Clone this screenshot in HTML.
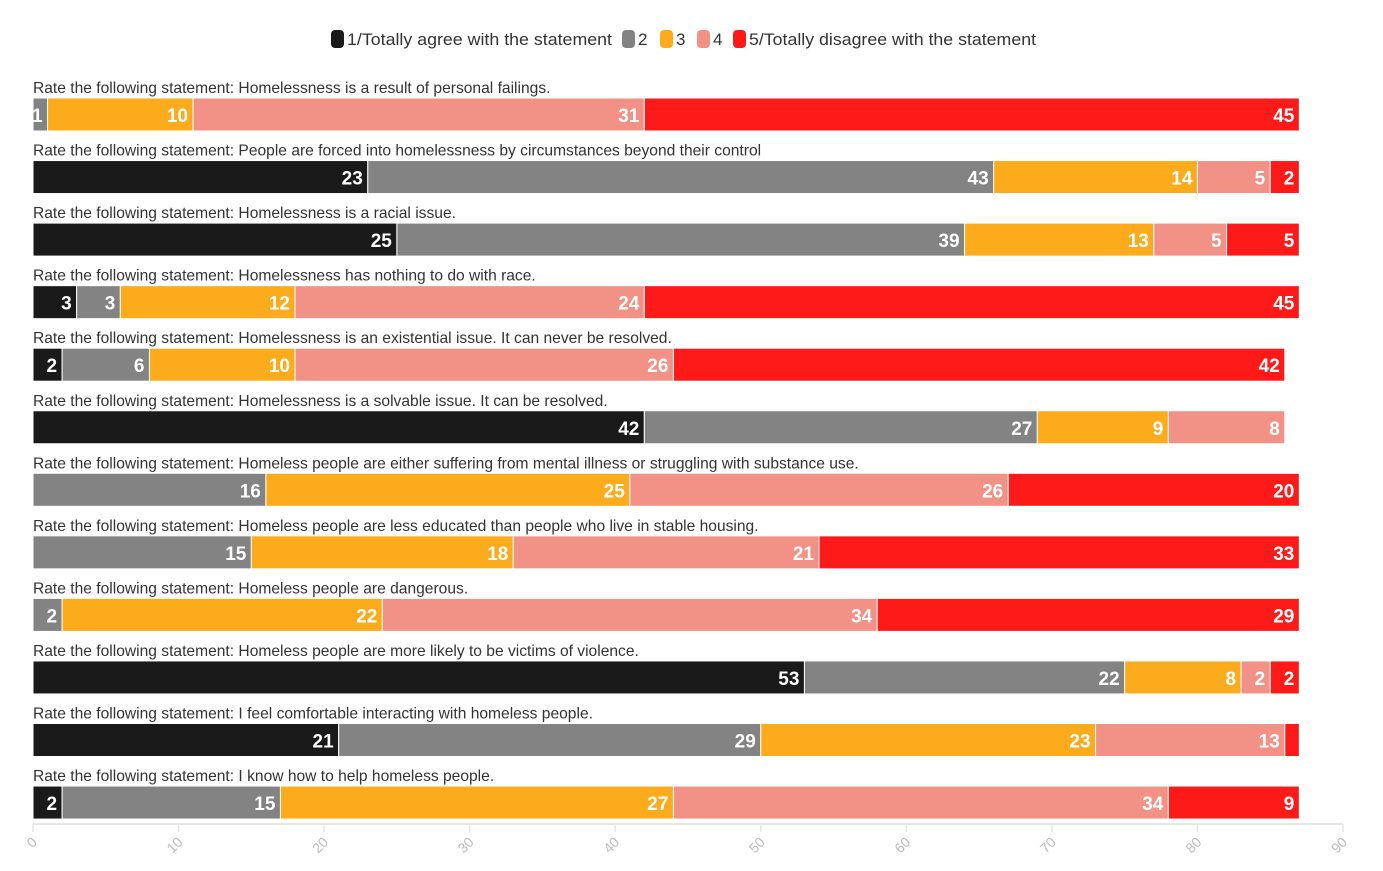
<!DOCTYPE html>
<html><head><meta charset="utf-8"><style>
body{margin:0;background:#fff;font-family:"Liberation Sans",sans-serif;}
svg{display:block}
</style></head><body>
<svg id="chart" width="1383" height="871"></svg>
<script>
const categories=["Rate the following statement: Homelessness is a result of personal failings.",
"Rate the following statement: People are forced into homelessness by circumstances beyond their control",
"Rate the following statement: Homelessness is a racial issue.",
"Rate the following statement: Homelessness has nothing to do with race.",
"Rate the following statement: Homelessness is an existential issue. It can never be resolved.",
"Rate the following statement: Homelessness is a solvable issue. It can be resolved.",
"Rate the following statement: Homeless people are either suffering from mental illness or struggling with substance use.",
"Rate the following statement: Homeless people are less educated than people who live in stable housing.",
"Rate the following statement: Homeless people are dangerous.",
"Rate the following statement: Homeless people are more likely to be victims of violence.",
"Rate the following statement: I feel comfortable interacting with homeless people.",
"Rate the following statement: I know how to help homeless people."];
const s1=[0,23,25,3,2,42,0,0,0,53,21,2];
const s2=[1,43,39,3,6,27,16,15,2,22,29,15];
const s3=[10,14,13,12,10,9,25,18,22,8,23,27];
const s4=[31,5,5,24,26,8,26,21,34,2,13,34];
const s5=[45,2,5,45,42,0,20,33,29,2,1,9];
const seriesNames=["1/Totally agree with the statement","2","3","4","5/Totally disagree with the statement"];
const ticks=[0,10,20,30,40,50,60,70,80,90];
const series=[s1,s2,s3,s4,s5];
const colors=["#1a1a1a","#838383","#fcab1d","#f29286","#ff1a1a"];
const NS="http://www.w3.org/2000/svg";
const svg=document.getElementById('chart');
const x0=33,x1=1343,xmax=90;
const X=v=>x0+(x1-x0)*v/xmax;
const rowY=i=>98+i*62.55;
function mk(t,a,p){const e=document.createElementNS(NS,t);for(const k in a)e.setAttribute(k,a[k]);(p||svg).appendChild(e);return e;}
const ax=mk('line',{x1:x0,x2:x1,y1:824,y2:824,stroke:'#e6e6e6','stroke-width':2});


ticks.forEach(t=>{
 const tl=mk('line',{x1:X(t),x2:X(t),y1:824,y2:832,stroke:'#e6e6e6','stroke-width':1.5});
 
 
 const tx=mk('text',{x:X(t)+5,y:843,transform:`rotate(-45 ${X(t)+5} 843)`,'text-anchor':'end','font-size':14,fill:'#bbbbbb'});
 tx.textContent=t;
 
 
});
categories.forEach((c,i)=>{
 const y=rowY(i);
 const lab=mk('text',{x:33,y:y-5,'font-size':15.6,fill:'#333'});
 lab.textContent=c;
 
 
 let acc=0;
 series.forEach((s,k)=>{
  const v=s[i]; if(!v){return;}
  const r=mk('rect',{x:X(acc),y:y,width:X(acc+v)-X(acc),height:33,fill:colors[k],stroke:'#fff','stroke-width':1});
  
  
  acc+=v;
  if(v>=1 && !(k===4&&v<2)){
   const t=mk('text',{x:X(acc)-5,y:y+24,'text-anchor':'end','font-size':19,'font-weight':'bold',fill:'#fff'});
   t.textContent=v;
   
   
  }
 });
});
const lg=mk('g',{});


const lx=[331,622,660,697,733];
const lw=[265,0,0,0,287];
seriesNames.forEach((n,k)=>{
 const g=mk('g',{},lg);
 
 
 mk('rect',{x:lx[k],y:30,width:13,height:18,rx:4,fill:colors[k]},g);
 const a={x:lx[k]+16,y:45,'font-size':17,fill:'#333'};
 if(lw[k]){a.textLength=lw[k];a.lengthAdjust='spacingAndGlyphs';}
 const t=mk('text',a,g);
 t.textContent=n;
});
</script>
</body></html>
